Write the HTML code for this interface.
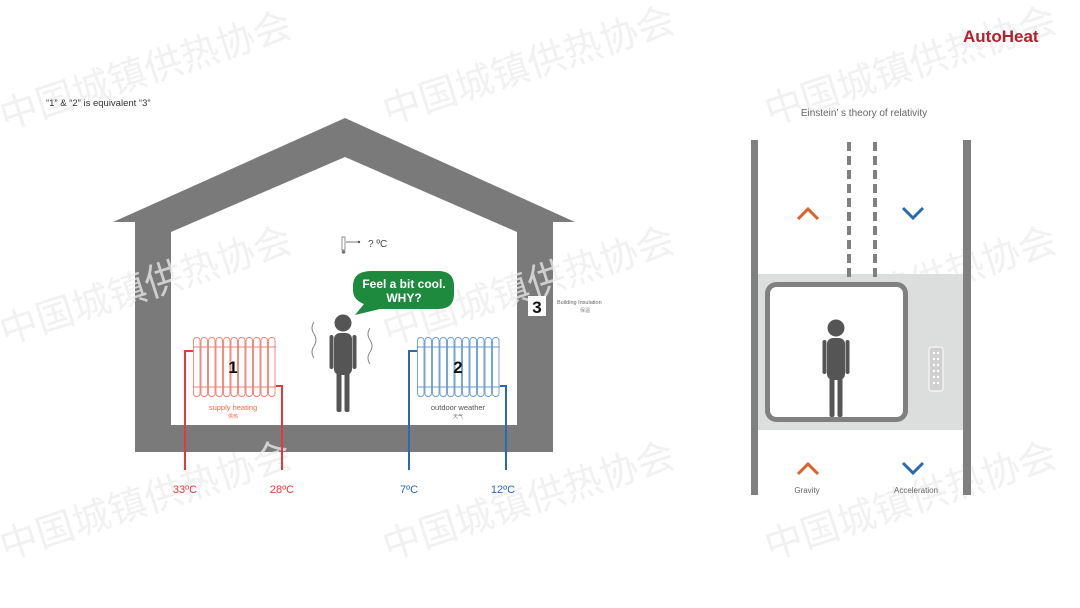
<!DOCTYPE html>
<html><head><meta charset="utf-8"><style>
html,body{margin:0;padding:0;background:#fff;}
svg{display:block;font-family:"Liberation Sans","Noto Sans CJK SC",sans-serif;}
</style></head><body>
<svg width="1080" height="608" viewBox="0 0 1080 608" xmlns="http://www.w3.org/2000/svg">
<defs>
<g id="wm"><text font-size="38" fill="#ececec" font-family="Noto Sans CJK SC, sans-serif" transform="rotate(-18)">中国城镇供热协会</text></g>
<g id="rad">
 <g fill="none" stroke-width="0.9">
  <rect x="0.5" y="0.5" width="6.5" height="59" rx="3"/><rect x="8" y="0.5" width="6.5" height="59" rx="3"/>
  <rect x="15.5" y="0.5" width="6.5" height="59" rx="3"/><rect x="23" y="0.5" width="6.5" height="59" rx="3"/>
  <rect x="30.5" y="0.5" width="6.5" height="59" rx="3"/><rect x="38" y="0.5" width="6.5" height="59" rx="3"/>
  <rect x="45.5" y="0.5" width="6.5" height="59" rx="3"/><rect x="53" y="0.5" width="6.5" height="59" rx="3"/>
  <rect x="60.5" y="0.5" width="6.5" height="59" rx="3"/><rect x="68" y="0.5" width="6.5" height="59" rx="3"/>
  <rect x="75.5" y="0.5" width="6.5" height="59" rx="3"/>
  <line x1="0" y1="10" x2="83" y2="10"/><line x1="0" y1="50" x2="83" y2="50"/>
 </g>
</g>
<g id="person" fill="#555">
 <circle cx="0" cy="-12" r="8.5"/>
 <rect x="-9" y="-2" width="18" height="42" rx="6"/>
 <rect x="-13.5" y="0" width="4" height="34" rx="2"/><rect x="9.5" y="0" width="4" height="34" rx="2"/>
 <rect x="-6.5" y="34" width="5" height="43" rx="2"/><rect x="1.5" y="34" width="5" height="43" rx="2"/>
</g>
</defs>

<!-- house -->
<path d="M345,118 L575,222 L553,222 L553,452 L135,452 L135,222 L113,222 Z" fill="#7a7a7a"/>
<path d="M345,157 L517,232 L517,425 L171,425 L171,232 Z" fill="#fff"/>

<!-- watermarks -->
<g opacity="0.75">
<use href="#wm" transform="translate(5,130)"/>
<use href="#wm" transform="translate(388,125)"/>
<use href="#wm" transform="translate(770,125)"/>
<use href="#wm" transform="translate(5,345)"/>
<use href="#wm" transform="translate(388,345)"/>
<use href="#wm" transform="translate(770,345)"/>
<use href="#wm" transform="translate(5,560)"/>
<use href="#wm" transform="translate(388,560)"/>
<use href="#wm" transform="translate(770,560)"/>
</g>

<text x="963" y="42" font-size="17" font-weight="bold" fill="#b5202a">AutoHeat</text>
<text x="46" y="106" font-size="9.5" fill="#333">“1”  &amp;  “2”  is equivalent  “3”</text>

<rect x="528" y="296" width="18" height="20" fill="#fff"/>
<text x="537" y="313" font-size="17" font-weight="bold" text-anchor="middle" fill="#111">3</text>
<text x="557" y="304" font-size="5.5" fill="#666">Building Insulation</text>
<text x="580" y="312" font-size="5" fill="#888">保温</text>

<!-- thermometer -->
<rect x="342" y="237" width="3" height="13" fill="none" stroke="#777" stroke-width="0.8"/>
<circle cx="343.5" cy="252" r="1.8" fill="#777"/>
<line x1="346" y1="242" x2="359" y2="242" stroke="#555" stroke-width="0.8"/>
<circle cx="359" cy="242" r="1.2" fill="#555"/>
<text x="368" y="247" font-size="10" fill="#444">?  <tspan>ºC</tspan></text>

<!-- bubble -->
<path d="M372,271 L438,271 Q454,271 454,286 L454,294 Q454,309 438,309 L380,309 L355,315 L364,304 Q353,300 353,290 L353,286 Q353,271 372,271 Z" fill="#1e8a3d"/>
<text x="404" y="288" font-size="12" font-weight="bold" fill="#fff" text-anchor="middle">Feel a bit cool.</text>
<text x="404" y="302" font-size="12" font-weight="bold" fill="#fff" text-anchor="middle">WHY?</text>

<!-- person -->
<use href="#person" transform="translate(343,335)"/>
<path d="M314,322 q-4,6 0,12 q4,6 0,12 q-4,6 0,12" fill="none" stroke="#888" stroke-width="1"/>
<path d="M370,328 q-4,6 0,12 q4,6 0,12 q-4,6 0,12" fill="none" stroke="#888" stroke-width="1"/>

<!-- radiator 1 -->
<g stroke="#f08070"><use href="#rad" transform="translate(193,337)"/></g>
<path d="M185,470 L185,351 L193,351" fill="none" stroke="#e8393a" stroke-width="2"/>
<path d="M282,470 L282,386 L276,386" fill="none" stroke="#e8393a" stroke-width="2"/>
<text x="233" y="373" font-size="17" font-weight="bold" text-anchor="middle" fill="#111">1</text>
<text x="233" y="410" font-size="7.5" text-anchor="middle" fill="#ef6a4a">supply heating</text>
<text x="233" y="418" font-size="5" text-anchor="middle" fill="#ef6a4a">供热</text>
<text x="185" y="493" font-size="11" text-anchor="middle" fill="#e8393a">33ºC</text>
<text x="282" y="493" font-size="11" text-anchor="middle" fill="#e8393a">28ºC</text>

<!-- radiator 2 -->
<g stroke="#6a9cd4"><use href="#rad" transform="translate(417,337)"/></g>
<path d="M409,470 L409,351 L417,351" fill="none" stroke="#2a6ab5" stroke-width="2"/>
<path d="M506,470 L506,386 L500,386" fill="none" stroke="#2a6ab5" stroke-width="2"/>
<text x="458" y="373" font-size="17" font-weight="bold" text-anchor="middle" fill="#111">2</text>
<text x="458" y="410" font-size="7.5" text-anchor="middle" fill="#555">outdoor weather</text>
<text x="458" y="418" font-size="5" text-anchor="middle" fill="#777">天气</text>
<text x="409" y="493" font-size="11" text-anchor="middle" fill="#2a6ab5">7ºC</text>
<text x="503" y="493" font-size="11" text-anchor="middle" fill="#2a6ab5">12ºC</text>

<!-- elevator -->
<text x="864" y="116" font-size="10" text-anchor="middle" fill="#666">Einstein’ s theory of relativity</text>
<rect x="758" y="274" width="205" height="156" fill="#dcdddd"/>
<rect x="751" y="140" width="7" height="355" fill="#808080"/>
<rect x="963" y="140" width="8" height="355" fill="#808080"/>
<line x1="849" y1="142" x2="849" y2="283" stroke="#808080" stroke-width="4" stroke-dasharray="9,5"/>
<line x1="875" y1="142" x2="875" y2="283" stroke="#808080" stroke-width="4" stroke-dasharray="9,5"/>
<rect x="767.5" y="284.5" width="138" height="135" rx="9" fill="#fff" stroke="#808080" stroke-width="5"/>
<use href="#person" transform="translate(836,340)"/>
<rect x="929" y="347" width="14" height="44" rx="3" fill="#d0d0d0" stroke="#fff" stroke-width="1"/>
<g fill="#fff"><circle cx="934" cy="353" r="1.2"/><circle cx="938" cy="353" r="1.2"/><circle cx="934" cy="359" r="1.2"/><circle cx="938" cy="359" r="1.2"/><circle cx="934" cy="365" r="1.2"/><circle cx="938" cy="365" r="1.2"/><circle cx="934" cy="371" r="1.2"/><circle cx="938" cy="371" r="1.2"/><circle cx="934" cy="377" r="1.2"/><circle cx="938" cy="377" r="1.2"/><circle cx="934" cy="383" r="1.2"/><circle cx="938" cy="383" r="1.2"/></g>
<g fill="none" stroke-width="3">
 <path d="M798,219 L808,209 L818,219" stroke="#e0602a"/>
 <path d="M903,208 L913,218 L923,208" stroke="#2a6ab5"/>
 <path d="M798,474 L808,464 L818,474" stroke="#e0602a"/>
 <path d="M903,463 L913,473 L923,463" stroke="#2a6ab5"/>
</g>
<text x="807" y="493" font-size="8" text-anchor="middle" fill="#666">Gravity</text>
<text x="916" y="493" font-size="8" text-anchor="middle" fill="#666">Acceleration</text>
</svg>
</body></html>
